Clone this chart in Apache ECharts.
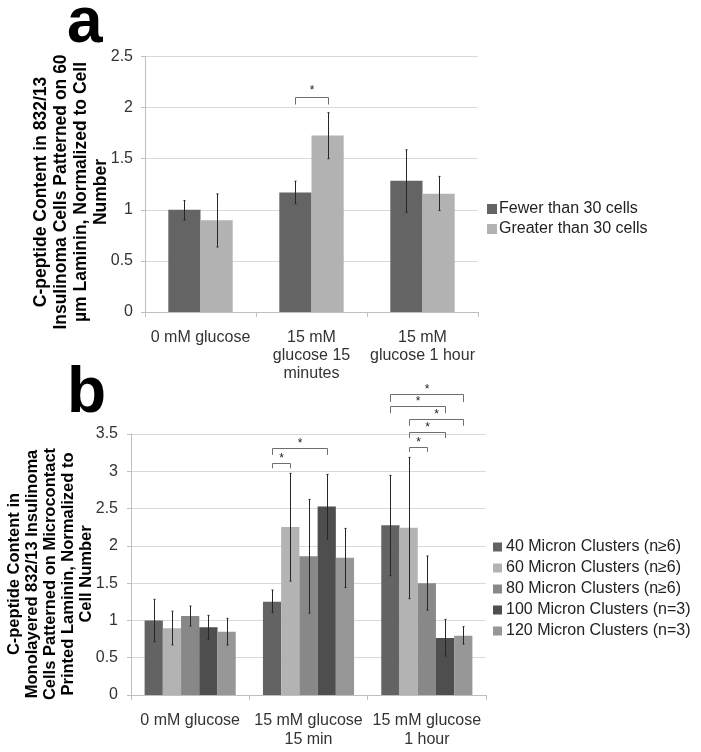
<!DOCTYPE html>
<html>
<head>
<meta charset="utf-8">
<script src="https://cdn.jsdelivr.net/npm/echarts@6/dist/echarts.min.js"></script>
<style>
html,body{margin:0;padding:0;background:#fff;}
#chart{width:701px;height:752px;}
</style>
</head>
<body>
<div id="chart"></div>
<script>
// ---------- Panel a data ----------
const categoriesA = ['0 mM glucose', '15 mM\nglucose 15\nminutes', '15 mM\nglucose 1 hour'];
const seriesNamesA = ['Fewer than 30 cells', 'Greater than 30 cells'];
const fewerValues = [1.0, 1.17, 1.285];
const fewerErrLow = [0.90, 1.06, 0.975];
const fewerErrHigh = [1.09, 1.28, 1.587];
const greaterValues = [0.897, 1.727, 1.157];
const greaterErrLow = [0.636, 1.50, 0.993];
const greaterErrHigh = [1.156, 1.95, 1.327];
const yTicksA = [0, 0.5, 1, 1.5, 2, 2.5];
// significance brackets a: [category, fromBar, toBar, legBottom, top]
const sigA = [[1, 0, 1, 2.03, 2.10]];
const titleA = 'C-peptide Content in 832/13\nInsulinoma Cells Patterned on 60\nµm Laminin, Normalized to Cell\nNumber';

// ---------- Panel b data ----------
const categoriesB = ['0 mM glucose', '15 mM glucose\n15 min', '15 mM glucose\n1 hour'];
const seriesNamesB = ['40 Micron Clusters (n\u22656)', '60 Micron Clusters (n\u22656)', '80 Micron Clusters (n\u22656)', '100 Micron Clusters (n=3)', '120 Micron Clusters (n=3)'];
const m40Values = [1.0, 1.25, 2.275];
const m40Low = [0.715, 1.103, 1.60];
const m40High = [1.283, 1.408, 2.945];
const m60Values = [0.896, 2.252, 2.243];
const m60Low = [0.671, 1.528, 1.291];
const m60High = [1.124, 2.972, 3.186];
const m80Values = [1.059, 1.859, 1.497];
const m80Low = [0.925, 1.098, 1.139];
const m80High = [1.193, 2.623, 1.864];
const m100Values = [0.907, 2.529, 0.764];
const m100Low = [0.746, 2.091, 0.523];
const m100High = [1.068, 2.958, 1.014];
const m120Values = [0.849, 1.842, 0.795];
const m120Low = [0.671, 1.443, 0.684];
const m120High = [1.028, 2.234, 0.916];
const yTicksB = [0, 0.5, 1, 1.5, 2, 2.5, 3, 3.5];
const sigB = [
  [1, 0, 1, 3.04, 3.11],
  [1, 0, 3, 3.22, 3.31],
  [2, 0, 4, 3.93, 4.03],
  [2, 0, 3, 3.78, 3.88],
  [2, 1, 4, 3.61, 3.70],
  [2, 1, 3, 3.445, 3.53],
  [2, 1, 2, 3.26, 3.33]
];
const titleB = 'C-peptide Content in\nMonolayered 832/13 Insulinoma\nCells Patterned on Microcontact\nPrinted Laminin, Normalized to\nCell Number';

// ---------- styling ----------
const FONT = '"Liberation Sans", Arial, sans-serif';
const colorsA = ['#646464', '#b2b2b2'];
const colorsB = ['#636363', '#b3b3b3', '#888888', '#4e4e4e', '#979797'];
const gapA = 0.42, gapB = 0.23;

function barX(api, cat, i, n, gap) {
  const c = api.coord([cat, 0]);
  const cw = api.size([1, 0])[0];
  const gw = cw * (1 - gap);
  const bw = gw / n;
  return c[0] - gw / 2 + bw * (i + 0.5);
}

function errSeries(name, idx, n, gap, lows, highs, axis) {
  return {
    type: 'custom', name: name + ' err', xAxisIndex: axis, yAxisIndex: axis,
    silent: true, clip: false, z: 5,
    data: lows.map((l, k) => [k, l, highs[k]]),
    renderItem: function (params, api) {
      const cat = api.value(0);
      const x = Math.round(barX(api, cat, idx, n, gap)) + 0.5;
      const p1 = api.coord([cat, api.value(1)]);
      const p2 = api.coord([cat, api.value(2)]);
      return {
        type: 'group',
        children: [
          { type: 'line', shape: { x1: x, y1: p1[1], x2: x, y2: p2[1] }, style: { stroke: '#262626', lineWidth: 1 } },
          { type: 'line', shape: { x1: x - 1, y1: p2[1], x2: x + 1, y2: p2[1] }, style: { stroke: '#262626', lineWidth: 1 } },
          { type: 'line', shape: { x1: x - 1, y1: p1[1], x2: x + 1, y2: p1[1] }, style: { stroke: '#262626', lineWidth: 1 } }
        ]
      };
    }
  };
}

function sigSeries(data, n, gap, axis, starDy) {
  return {
    type: 'custom', xAxisIndex: axis, yAxisIndex: axis, silent: true, clip: false, z: 6,
    data: data,
    renderItem: function (params, api) {
      const cat = api.value(0);
      const x1 = Math.round(barX(api, cat, api.value(1), n, gap)) + 0.5;
      const x2 = Math.round(barX(api, cat, api.value(2), n, gap)) + 0.5;
      const yb = api.coord([cat, api.value(3)])[1];
      const yt = Math.round(api.coord([cat, api.value(4)])[1]) + 0.5;
      return {
        type: 'group',
        children: [
          { type: 'polyline', shape: { points: [[x1, yb], [x1, yt], [x2, yt], [x2, yb]] }, style: { stroke: '#6e6e6e', lineWidth: 1, fill: null } },
          { type: 'text', x: (x1 + x2) / 2, y: yt - starDy, style: { text: '*', font: '12px ' + FONT, fill: '#222', align: 'center', verticalAlign: 'middle' } }
        ]
      };
    }
  };
}

const axisCommonY = {
  type: 'value', min: 0, interval: 0.5,
  axisLine: { show: true, lineStyle: { color: '#bfbfbf' } },
  axisTick: { show: true, length: 4, lineStyle: { color: '#bfbfbf' } },
  splitLine: { show: true, lineStyle: { color: '#d9d9d9' } },
  axisLabel: { color: '#333', fontSize: 16, fontFamily: FONT, margin: 12 }
};

const option = {
  backgroundColor: '#fff',
  animation: false,
  textStyle: { fontFamily: FONT },
  grid: [
    { left: 145, top: 56.5, width: 333, height: 255.5, outerBoundsMode: 'none' },
    { left: 131, top: 434, width: 355, height: 261, outerBoundsMode: 'none' }
  ],
  xAxis: [
    {
      type: 'category', gridIndex: 0, data: categoriesA,
      axisLine: { lineStyle: { color: '#bfbfbf' } },
      axisTick: { show: true, length: 5, lineStyle: { color: '#bfbfbf' } },
      axisLabel: { interval: 0, color: '#333', fontSize: 16, fontFamily: FONT, lineHeight: 18, margin: 17 }
    },
    {
      type: 'category', gridIndex: 1, data: categoriesB,
      axisLine: { lineStyle: { color: '#bfbfbf' } },
      axisTick: { show: true, length: 5, lineStyle: { color: '#bfbfbf' } },
      axisLabel: { interval: 0, color: '#333', fontSize: 16, fontFamily: FONT, lineHeight: 19, margin: 16 }
    }
  ],
  yAxis: [
    Object.assign({}, axisCommonY, { gridIndex: 0, max: yTicksA[yTicksA.length - 1] }),
    Object.assign({}, axisCommonY, { gridIndex: 1, max: yTicksB[yTicksB.length - 1], axisLabel: Object.assign({}, axisCommonY.axisLabel, { margin: 13 }) })
  ],
  legend: [
    {
      orient: 'vertical', left: 487, top: 199, padding: 0, itemWidth: 10, itemHeight: 10, itemGap: 0, icon: 'rect',
      data: seriesNamesA,
      textStyle: { fontSize: 16, fontFamily: FONT, color: '#222', lineHeight: 20, padding: [0, 0, 0, -3] },
      selectedMode: false
    },
    {
      orient: 'vertical', left: 493, top: 536.5, padding: 0, itemWidth: 9, itemHeight: 9, itemGap: 0, icon: 'rect',
      data: seriesNamesB,
      textStyle: { fontSize: 16, fontFamily: FONT, color: '#222', lineHeight: 21, padding: [0, 0, 0, -1] },
      selectedMode: false
    }
  ],
  graphic: [
    { type: 'text', x: 67, y: 56, style: { text: 'a', font: 'bold 64px ' + FONT, fill: '#000', verticalAlign: 'bottom' } },
    { type: 'text', x: 67, y: 426, style: { text: 'b', font: 'bold 64px ' + FONT, fill: '#000', verticalAlign: 'bottom' } },
    { type: 'text', x: 71, y: 192, rotation: Math.PI / 2, style: { text: titleA, font: 'bold 17.5px ' + FONT, lineHeight: 20, fill: '#000', align: 'center', verticalAlign: 'middle' } },
    { type: 'text', x: 50, y: 574, rotation: Math.PI / 2, style: { text: titleB, font: 'bold 16.5px ' + FONT, lineHeight: 18, fill: '#000', align: 'center', verticalAlign: 'middle' } }
  ],
  series: [
    { type: 'bar', name: seriesNamesA[0], xAxisIndex: 0, yAxisIndex: 0, data: fewerValues, itemStyle: { color: colorsA[0] }, barGap: '0%', barCategoryGap: (gapA * 100) + '%' },
    { type: 'bar', name: seriesNamesA[1], xAxisIndex: 0, yAxisIndex: 0, data: greaterValues, itemStyle: { color: colorsA[1] }, barGap: '0%', barCategoryGap: (gapA * 100) + '%' },
    errSeries('a0', 0, 2, gapA, fewerErrLow, fewerErrHigh, 0),
    errSeries('a1', 1, 2, gapA, greaterErrLow, greaterErrHigh, 0),
    sigSeries(sigA, 2, gapA, 0, 7),

    { type: 'bar', name: seriesNamesB[0], xAxisIndex: 1, yAxisIndex: 1, data: m40Values, itemStyle: { color: colorsB[0] }, barGap: '0%', barCategoryGap: (gapB * 100) + '%' },
    { type: 'bar', name: seriesNamesB[1], xAxisIndex: 1, yAxisIndex: 1, data: m60Values, itemStyle: { color: colorsB[1] }, barGap: '0%', barCategoryGap: (gapB * 100) + '%' },
    { type: 'bar', name: seriesNamesB[2], xAxisIndex: 1, yAxisIndex: 1, data: m80Values, itemStyle: { color: colorsB[2] }, barGap: '0%', barCategoryGap: (gapB * 100) + '%' },
    { type: 'bar', name: seriesNamesB[3], xAxisIndex: 1, yAxisIndex: 1, data: m100Values, itemStyle: { color: colorsB[3] }, barGap: '0%', barCategoryGap: (gapB * 100) + '%' },
    { type: 'bar', name: seriesNamesB[4], xAxisIndex: 1, yAxisIndex: 1, data: m120Values, itemStyle: { color: colorsB[4] }, barGap: '0%', barCategoryGap: (gapB * 100) + '%' },
    errSeries('b0', 0, 5, gapB, m40Low, m40High, 1),
    errSeries('b1', 1, 5, gapB, m60Low, m60High, 1),
    errSeries('b2', 2, 5, gapB, m80Low, m80High, 1),
    errSeries('b3', 3, 5, gapB, m100Low, m100High, 1),
    errSeries('b4', 4, 5, gapB, m120Low, m120High, 1),
    sigSeries(sigB, 5, gapB, 1, 5)
  ]
};

const chart = echarts.init(document.getElementById('chart'), null, { renderer: 'canvas' });
chart.setOption(option);
</script>
</body>
</html>
